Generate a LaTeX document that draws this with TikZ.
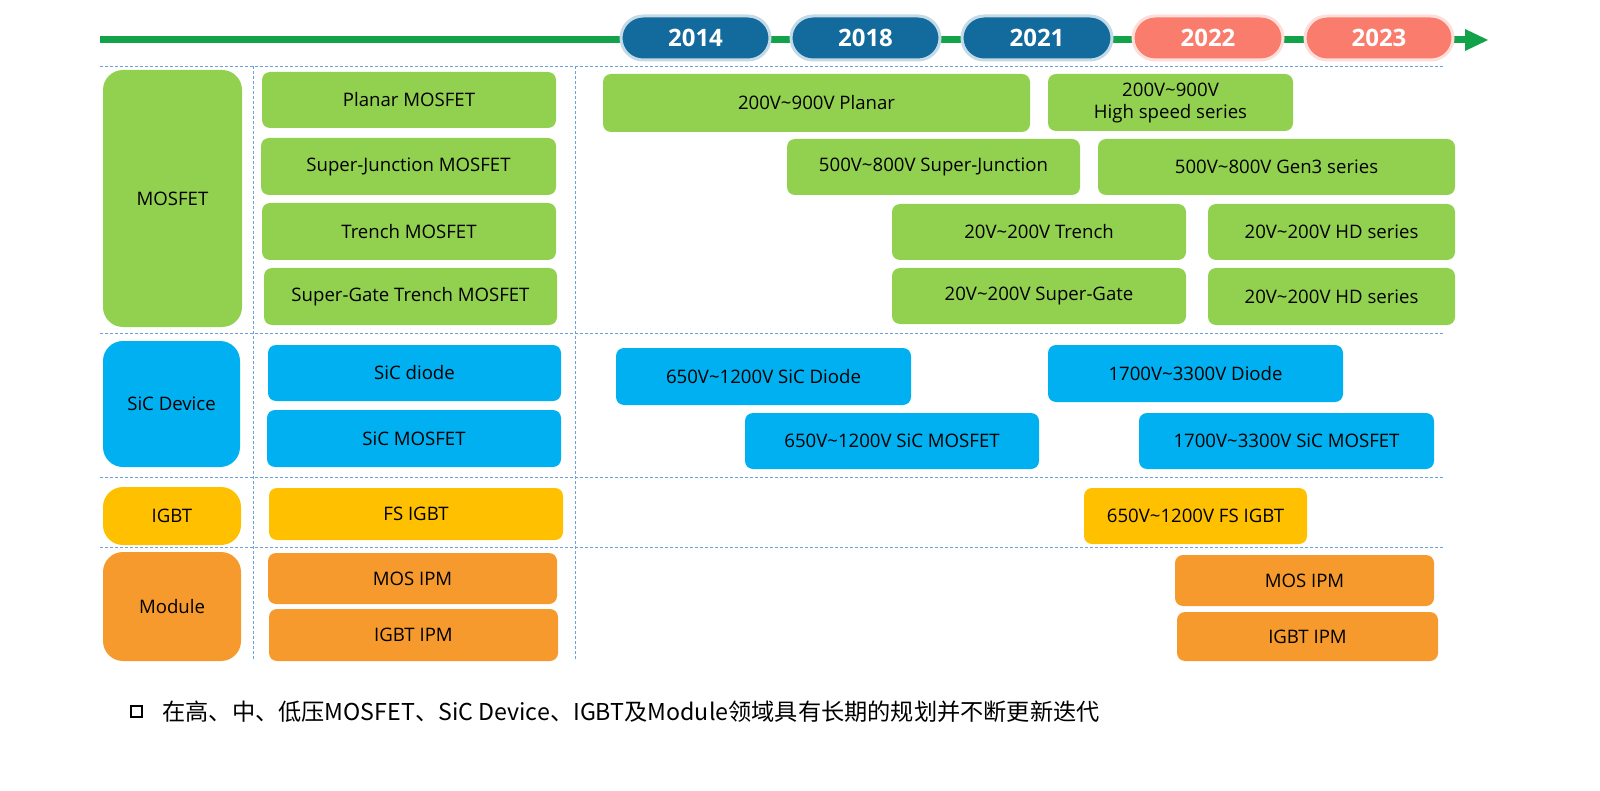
\documentclass[tikz,border=0pt]{standalone}
\usepackage{fontspec}
\setmainfont{Open Sans}
\newfontfamily\cjk{Noto Sans CJK SC}
\newfontfamily\yr{Open Sans}
\begin{document}
\begin{tikzpicture}[x=0.5pt,y=-0.5pt,
  bx/.style={rounded corners=4pt,inner sep=0pt,align=center,font=\fontsize{9.3}{11}\selectfont},
  gr/.style={fill=gr}, bl/.style={fill=bl}, ye/.style={fill=ye}, orr/.style={fill=orr},
  sep/.style={draw=cyan!60!blue!60,dashed,line width=0.4pt,dash pattern=on 1.5pt off 1pt},
  pill/.style={rounded corners=11pt,line width=1.5pt,text=white,font=\yr\bfseries\fontsize{12}{13}\selectfont}]
\definecolor{gr}{HTML}{92D050}\definecolor{bl}{HTML}{00B0F0}
\definecolor{ye}{HTML}{FFC000}\definecolor{orr}{HTML}{F79A2E}
\definecolor{db}{HTML}{136A9C}\definecolor{sa}{HTML}{F97C6C}
\definecolor{tl}{HTML}{12A34A}
\useasboundingbox (0,0) rectangle (1600,791);
\newcommand\bx[7]{\path[bx,#6] (#2,#3) rectangle (#4,#5);
  \node[bx] (#1) at ({(#2+#4)/2},{(#3+#5)/2}) {#7};}
% separators
\foreach \yy in {66,333,477,547} \draw[sep] (100,\yy) -- (1445,\yy);
\draw[sep] (253,66) -- (253,661);
\draw[sep] (575,66) -- (575,661);
% timeline
\coordinate (ts) at (100,40); \coordinate (te) at (1470,40);
\draw[tl,line width=3.5pt] (ts) -- (te);
\fill[tl] (1465,29) -- (1488,40) -- (1465,51) -- cycle;
\foreach \n/\a/\b/\c in {2014/621/770/db,2018/791/940/db,2021/962/1112/db,2022/1133/1283/sa,2023/1305/1453/sa}{
  \path[pill,fill=\c,draw=\c!25] (\a,16) rectangle (\b,60);
  \node[pill] (y\n) at ({(\a+\b)/2},38) {\n};}
% categories
\begin{scope}[bx/.append style={rounded corners=10pt}]
\bx{c1}{103}{70}{242}{327}{gr}{MOSFET}
\bx{c2}{103}{341}{240}{467}{bl}{SiC Device}
\bx{c3}{103}{487}{241}{545}{ye}{IGBT}
\bx{c4}{103}{552}{241}{661}{orr}{Module}
\end{scope}
\bx{t1}{262}{72}{556}{128}{gr}{Planar MOSFET}
\bx{t2}{261}{138}{556}{195}{gr}{Super-Junction MOSFET}
\bx{t3}{262}{203}{556}{260}{gr}{Trench MOSFET}
\bx{t4}{264}{268}{557}{325}{gr}{Super-Gate Trench MOSFET}
\bx{t5}{268}{345}{561}{401}{bl}{SiC diode}
\bx{t6}{267}{410}{561}{467}{bl}{SiC MOSFET}
\bx{t7}{269}{488}{563}{540}{ye}{FS IGBT}
\bx{t8}{268}{553}{557}{604}{orr}{MOS IPM}
\bx{t9}{269}{609}{558}{661}{orr}{IGBT IPM}
\bx{r1}{603}{74}{1030}{132}{gr}{200V\textasciitilde900V Planar}
\bx{r2}{1048}{74}{1293}{131}{gr}{200V\textasciitilde900V\\High speed series}
\bx{r3}{787}{139}{1080}{195}{gr}{500V\textasciitilde800V Super-Junction}
\bx{r4}{1098}{139}{1455}{195}{gr}{500V\textasciitilde800V Gen3 series}
\bx{r5}{892}{204}{1186}{260}{gr}{20V\textasciitilde200V Trench}
\bx{r6}{1208}{204}{1455}{260}{gr}{20V\textasciitilde200V HD series}
\bx{r7}{892}{268}{1186}{324}{gr}{20V\textasciitilde200V Super-Gate}
\bx{r8}{1208}{268}{1455}{325}{gr}{20V\textasciitilde200V HD series}
\bx{r9}{616}{348}{911}{405}{bl}{650V\textasciitilde1200V SiC Diode}
\bx{r10}{1048}{345}{1343}{402}{bl}{1700V\textasciitilde3300V Diode}
\bx{r11}{745}{413}{1039}{469}{bl}{650V\textasciitilde1200V SiC MOSFET}
\bx{r12}{1139}{413}{1434}{469}{bl}{1700V\textasciitilde3300V SiC MOSFET}
\bx{r13}{1084}{488}{1307}{544}{ye}{650V\textasciitilde1200V FS IGBT}
\bx{r14}{1175}{555}{1434}{606}{orr}{MOS IPM}
\bx{r15}{1177}{612}{1438}{661}{orr}{IGBT IPM}
% footer
\draw[line width=0.9pt] (131,706) rectangle (142,717);
\node[anchor=west,inner sep=0pt,font=\cjk\fontsize{11.6}{13}\selectfont] (ft) at (162,712) {在高、中、低压MOSFET、SiC Device、IGBT及Module领域具有长期的规划并不断更新迭代};
\end{tikzpicture}
\end{document}
